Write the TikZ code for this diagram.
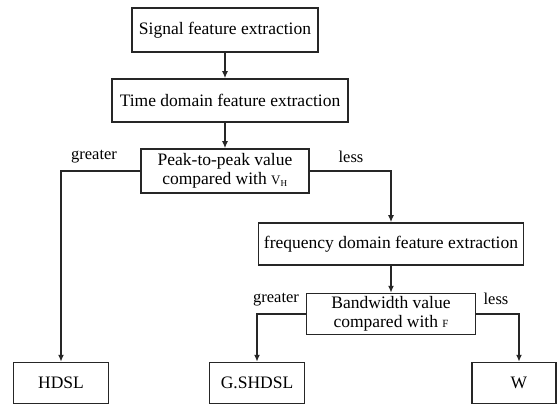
\documentclass[tikz,border=0pt]{standalone}
\usepackage{fontspec}
\setmainfont{Liberation Serif}
\usetikzlibrary{arrows.meta}
\begin{document}
\begin{tikzpicture}[x=1pt,y=-1pt,
  box/.style={draw=black!85, line width=1.5pt, rectangle, inner sep=0pt, align=center,
    font=\fontsize{17.5}{19.5}\selectfont},
  conn/.style={draw=black!85, line width=1.5pt, -{Latex[length=7pt,width=6pt]}},
  lbl/.style={font=\fontsize{16.5}{18}\selectfont, inner sep=0pt}]
\useasboundingbox (0,0) rectangle (557,406);
\node[box, minimum width=186pt, minimum height=44pt] (b1) at (225,30) {Signal feature extraction};
\node[box, minimum width=236pt, minimum height=43pt] (b2) at (230,100.5) {Time domain feature extraction};
\node[box, minimum width=168pt, minimum height=44pt] (b3) at (225,171) {Peak-to-peak value\\compared with {\fontsize{13}{14}\selectfont V$_{\mathrm{H}}$}};
\node[box, minimum width=265pt, minimum height=42pt] (b4) at (391,244) {frequency domain feature extraction};
\node[box, minimum width=169pt, minimum height=41pt] (b5) at (391,314) {Bandwidth value\\compared with {\fontsize{11}{12}\selectfont F}};
\node[box, minimum width=95pt, minimum height=41pt] (h) at (61,383) {HDSL};
\node[box, minimum width=95pt, minimum height=41pt] (g) at (257,383) {G.SHDSL};
\node[box, minimum width=84pt, minimum height=41pt] (w) at (514,383) {\hspace*{10pt}W};
\coordinate (wx) at (519,0);
\draw[conn] (b1.south -| b3.north) -- (b3.north |- b2.north);
\draw[conn] (b2.south -| b3.north) -- (b3.north);
\draw[conn] (b3.west) -| (h.north);
\draw[conn] (b3.east) -| (b4.north);
\draw[conn] (b4.south) -- (b5.north);
\draw[conn] (b5.west) -| (g.north);
\draw[conn] (b5.east) -| (w.north -| wx);
\node[lbl] (l1) at (94,157) {greater};
\node[lbl] (l2) at (351,157) {less};
\node[lbl] (l3) at (276,300) {greater};
\node[lbl] (l4) at (496,299) {less};
\end{tikzpicture}
\end{document}
